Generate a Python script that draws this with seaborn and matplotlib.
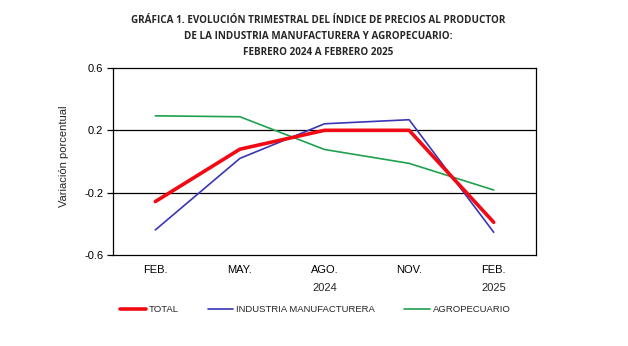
import matplotlib
matplotlib.use("Agg")
import matplotlib.pyplot as plt
import matplotlib.transforms as mtransforms
import seaborn as sns
import pandas as pd

months = ["FEB.", "MAY.", "AGO.", "NOV.", "FEB."]
years = ["", "", "2024", "", "2025"]
total = [-0.257, 0.079, 0.20, 0.20, -0.39]
industria = [-0.439, 0.02, 0.242, 0.268, -0.454]
agro = [0.293, 0.287, 0.077, -0.012, -0.183]
series_names = ["TOTAL", "INDUSTRIA MANUFACTURERA", "AGROPECUARIO"]
yticks = [-0.6, -0.2, 0.2, 0.6]

rows = []
for name, vals in zip(series_names, [total, industria, agro]):
    for i, v in enumerate(vals):
        rows.append({"pos": i, "valor": v, "serie": name})
df = pd.DataFrame(rows)

sns.set_theme(style="white")
plt.rcParams["font.family"] = ["Liberation Sans", "DejaVu Sans"]

fig = plt.figure(figsize=(6.28, 3.46), dpi=100)
ax = fig.add_axes([0.18, 0.263, 0.6735, 0.5405])

palette = {"TOTAL": "#F00A14", "INDUSTRIA MANUFACTURERA": "#3A36B4", "AGROPECUARIO": "#1FA04E"}
sizes = {"TOTAL": 2.6, "INDUSTRIA MANUFACTURERA": 1.2, "AGROPECUARIO": 1.2}
for name in series_names:
    sub = df[df["serie"] == name]
    sns.lineplot(data=sub, x="pos", y="valor", color=palette[name], lw=sizes[name],
                 ax=ax, label=name, zorder=3 if name == "TOTAL" else 2)

ax.set_xlim(-0.5, 4.5)
ax.set_ylim(-0.6, 0.6)
ax.set_yticks(yticks)
ax.set_yticklabels([f"{t:g}" for t in yticks])
ax.set_xticks(range(len(months)))
ax.set_xticklabels(months)
ax.tick_params(axis="x", labelsize=8, length=0, colors="black", pad=7)
ax.tick_params(axis="y", labelsize=8, length=4, width=0.9, direction="out",
               left=True, colors="black", pad=3)
for t in [-0.2, 0.2]:
    ax.axhline(t, color="black", lw=0.9, zorder=1)
for s in ax.spines.values():
    s.set_color("black")
    s.set_linewidth(0.9)
ax.set_xlabel("")
ax.set_ylabel("Variación porcentual", fontsize=8)
ax.yaxis.set_label_coords(-0.104, 0.53)

trans = mtransforms.blended_transform_factory(ax.transData, fig.transFigure)
for i, y in enumerate(years):
    if y:
        ax.text(i, 1 - 288 / 346, y, transform=trans, ha="center", va="center", fontsize=8)

ax.get_legend().remove()
handles, labels = ax.get_legend_handles_labels()
fig.legend(handles, labels, loc="center", bbox_to_anchor=(0.502, 1 - 310 / 346), ncol=3,
           frameon=False, fontsize=6.8, handlelength=2.7, handletextpad=0.3, columnspacing=3.1)

fig.text(0.507, 1 - 36.5 / 346,
         "GRÁFICA 1. EVOLUCIÓN TRIMESTRAL DEL ÍNDICE DE PRECIOS AL PRODUCTOR\n"
         "DE LA INDUSTRIA MANUFACTURERA Y AGROPECUARIO:\nFEBRERO 2024 A FEBRERO 2025",
         ha="center", va="center", fontsize=7.15, fontweight="bold", linespacing=1.65,
         family=["Open Sans", "DejaVu Sans"])

fig.savefig("out.png", dpi=100, facecolor="white")
